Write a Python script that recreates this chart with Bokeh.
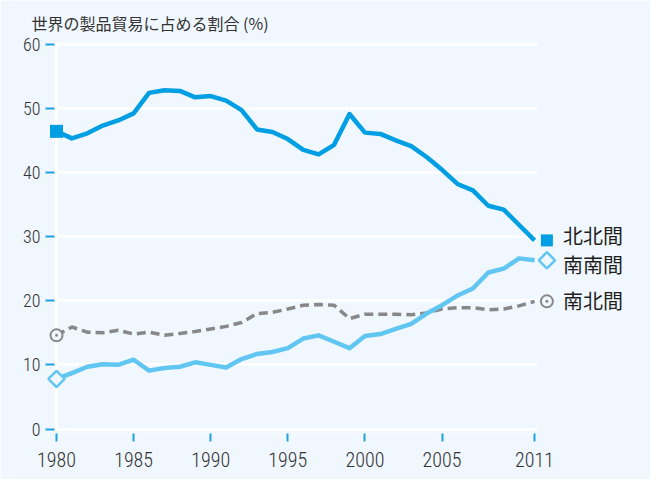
import numpy as np
from bokeh.plotting import figure
from bokeh.models import FixedTicker, Range1d, ColumnDataSource
from bokeh.core.properties import value
from bokeh.embed import file_html
from bokeh.resources import INLINE

years = list(range(1980, 2012))
north_north = [46.4, 45.3, 46.1, 47.3, 48.1, 49.2, 52.4, 52.8, 52.7, 51.7,
               51.9, 51.2, 49.7, 46.7, 46.3, 45.2, 43.5, 42.8, 44.3, 49.1,
               46.2, 46.0, 45.0, 44.1, 42.4, 40.4, 38.2, 37.2, 34.8, 34.2,
               31.8, 29.4]
south_south = [7.8, 8.7, 9.7, 10.1, 10.0, 10.8, 9.1, 9.5, 9.7, 10.4,
               10.0, 9.6, 10.9, 11.7, 12.0, 12.6, 14.1, 14.6, 13.6, 12.6,
               14.5, 14.8, 15.6, 16.4, 18.0, 19.3, 20.8, 21.9, 24.4, 25.0,
               26.6, 26.3]
south_north = [14.6, 15.9, 15.1, 15.0, 15.4, 14.8, 15.1, 14.6, 14.9, 15.2,
               15.6, 16.0, 16.6, 18.0, 18.2, 18.7, 19.3, 19.4, 19.3, 17.2,
               17.9, 17.9, 17.9, 17.8, 18.1, 18.7, 18.9, 18.9, 18.6, 18.7,
               19.2, 19.9]
series_labels = ["北北間", "南南間", "南北間"]
x_ticks = [1980, 1985, 1990, 1995, 2000, 2005, 2011]
y_ticks = [0, 10, 20, 30, 40, 50, 60]
title_text = "世界の製品貿易に占める割合 (%)"

bg = "#f0f7fe"
c_nn = "#009fe3"
c_ss = "#62c6f2"
c_sn = "#888888"
tick_c = "#1fa3e0"
txt_c = "#333333"
tick_font = "Roboto Condensed Light"

p = figure(width=650, height=479, output_backend="svg", toolbar_location=None,
           x_range=Range1d(1979.87, 2011.19), y_range=Range1d(-0.7, 60.25),
           min_border_left=54, min_border_right=113, min_border_top=42,
           min_border_bottom=46)
p.background_fill_color = bg
p.border_fill_color = bg
p.outline_line_color = None

p.title.text = title_text
p.title.text_font = "Noto Sans CJK JP"
p.title.text_font_size = "16px"
p.title.text_font_style = "normal"
p.title.text_color = txt_c
p.title.align = "left"
p.title.offset = -23
p.title.standoff = 15

# grid
p.xgrid.visible = False
p.ygrid.ticker = FixedTicker(ticks=y_ticks)
p.ygrid.grid_line_color = "white"
p.ygrid.grid_line_width = 3
p.segment(x0=[years[0]], y0=[y_ticks[0]], x1=[years[0]], y1=[y_ticks[-1]],
          line_color="white", line_width=3, level="underlay")

# axes
for ax in (p.xaxis[0], p.yaxis[0]):
    ax.axis_line_color = None
    ax.major_tick_line_color = tick_c
    ax.major_tick_line_width = 2
    ax.minor_tick_line_color = None
    ax.major_tick_in = 0
    ax.major_label_text_font = tick_font
    ax.major_label_text_color = txt_c
p.xaxis.ticker = FixedTicker(ticks=x_ticks)
p.yaxis.ticker = FixedTicker(ticks=y_ticks)
p.xaxis.major_tick_out = 8
p.yaxis.major_tick_out = 9
p.xaxis.major_label_standoff = 10
p.yaxis.major_label_standoff = 5
p.xaxis.major_label_text_font_size = "20px"
p.yaxis.major_label_text_font_size = "18px"

# lines
p.line(years, south_north, line_color=c_sn, line_width=3.5, line_dash="9 5")
p.line(years, south_south, line_color=c_ss, line_width=4.5, line_join="round")
p.line(years, north_north, line_color=c_nn, line_width=4.5, line_join="round")

end_x = years[-1] + 0.8
label_x = years[-1] + 1.85
starts = [years[0]]

# start markers
p.scatter(starts, [south_north[0]], marker="circle_dot", size=12, fill_color=bg,
          line_color=c_sn, line_width=2, level="overlay")
p.scatter(starts, [south_south[0]], marker="square", angle=np.pi / 4, size=11.5,
          fill_color=bg, line_color=c_ss, line_width=2.5, level="overlay")
p.scatter(starts, [north_north[0]], marker="square", size=13, fill_color=c_nn,
          line_color=None, level="overlay")

# end markers
p.scatter([end_x], [south_north[-1]], marker="circle_dot", size=12, fill_color=bg,
          line_color=c_sn, line_width=2, level="overlay")
p.scatter([end_x], [south_south[-1]], marker="square", angle=np.pi / 4, size=11.5,
          fill_color=bg, line_color=c_ss, line_width=2.5, level="overlay")
p.scatter([end_x], [north_north[-1]], marker="square", size=12, fill_color=c_nn,
          line_color=None, level="overlay")

label_dy = [0.7, -0.7, 0.1]
ends = [north_north[-1], south_south[-1], south_north[-1]]
src = ColumnDataSource(dict(x=[label_x] * 3,
                            y=[e + d for e, d in zip(ends, label_dy)],
                            t=series_labels))
p.text(x="x", y="y", text="t", source=src, text_font=value("Noto Sans CJK JP"),
       text_font_size="20px", text_baseline="middle", text_align="left",
       text_color="#231f20", level="overlay")

open("out.html", "w").write(file_html(p, INLINE))
